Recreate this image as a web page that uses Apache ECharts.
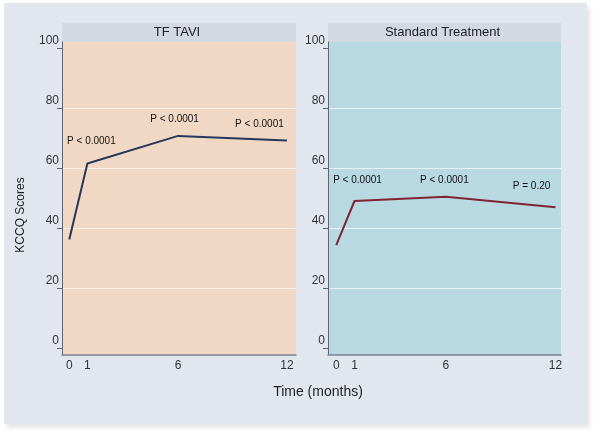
<!DOCTYPE html>
<html>
<head>
<meta charset="utf-8">
<script src="https://cdn.jsdelivr.net/npm/echarts@6/dist/echarts.min.js"></script>
<style>html,body{margin:0;padding:0;background:#fff}#c{width:600px;height:436px}</style>
</head>
<body>
<div id="c"></div>
<script>
// ---- data ----
var months = [0, 1, 6, 12];
var tafiScores = [36.2, 61.5, 70.7, 69.2];
var standardScores = [34.3, 49.0, 50.4, 46.9];
var tafiPLabels = ['', 'P < 0.0001', 'P < 0.0001', 'P < 0.0001'];
var standardPLabels = ['', 'P < 0.0001', 'P < 0.0001', 'P = 0.20'];
var xTickValues = [0, 1, 6, 12];
var yTickValues = [0, 20, 40, 60, 80, 100];
var panelTitles = ['TF TAVI', 'Standard Treatment'];
var xAxisTitle = 'Time (months)';
var yAxisTitle = 'KCCQ Scores';

// ---- styles ----
var font = 'Liberation Sans, Arial, sans-serif';
var tafiOffsets = [[0, 0], [4, -22], [-3.5, -17], [-27.5, -16.5]];
var stdOffsets = [[0, 0], [3, -21], [-1.5, -17], [-24, -21]];

function buildData(xs, ys, labels, offsets) {
  return xs.map(function (x, i) {
    return {
      value: [x, ys[i]],
      label: { show: labels[i] !== '', formatter: labels[i], offset: offsets[i] }
    };
  });
}

var grids = [
  { left: 62, top: 42, width: 234, height: 313, show: true, backgroundColor: '#f1d8c5', borderWidth: 0 },
  { left: 328, top: 42, width: 233, height: 313, show: true, backgroundColor: '#b8d9e2', borderWidth: 0 }
];

function xAxisFor(idx, mn, mx) {
  return {
    type: 'value', gridIndex: idx, min: mn, max: mx,
    axisLine: { show: true, onZero: false, lineStyle: { color: '#7d838c', width: 1.5 } },
    axisTick: { show: false, customValues: xTickValues },
    axisLabel: { customValues: xTickValues, color: '#333', fontFamily: font, fontSize: 12, margin: 5 },
    splitLine: { show: false }
  };
}
function yAxisFor(idx) {
  return {
    type: 'value', gridIndex: idx, min: -2.33, max: 102,
    axisLine: { show: true, onZero: false, lineStyle: { color: '#5f656e', width: 1 } },
    axisTick: { show: true, length: 5, customValues: yTickValues, lineStyle: { color: '#5f656e' } },
    axisLabel: { customValues: yTickValues, color: '#333', fontFamily: font, fontSize: 12, margin: 3, verticalAlign: 'bottom', lineHeight: 14 },
    splitLine: { show: true, showMinLine: false, showMaxLine: false, lineStyle: { color: 'rgba(255,255,255,0.65)', width: 1 } }
  };
}

var labelStyle = { position: 'inside', color: '#111', fontFamily: font, fontSize: 10 };

var option = {
  animation: false,
  backgroundColor: '#ffffff',
  grid: grids,
  xAxis: [xAxisFor(0, -0.4, 12.5), xAxisFor(1, -0.45, 12.3)],
  yAxis: [yAxisFor(0), yAxisFor(1)],
  graphic: [
    { type: 'rect', z: -10, shape: { x: 4, y: 3, width: 583, height: 421 },
      style: { fill: '#e2e7ef', shadowBlur: 4, shadowOffsetX: 3, shadowOffsetY: 4, shadowColor: 'rgba(0,0,0,0.10)' } },
    { type: 'rect', shape: { x: 62, y: 23, width: 234, height: 19 }, style: { fill: '#d3d8e3' } },
    { type: 'rect', shape: { x: 328, y: 23, width: 233, height: 19 }, style: { fill: '#d3d8e3' } },
    { type: 'text', x: 177, y: 32.5, style: { text: panelTitles[0], fill: '#222', font: '13px ' + font, align: 'center', verticalAlign: 'middle' } },
    { type: 'text', x: 442.5, y: 32.5, style: { text: panelTitles[1], fill: '#222', font: '13px ' + font, align: 'center', verticalAlign: 'middle' } },
    { type: 'text', x: 318, y: 392, style: { text: xAxisTitle, fill: '#222', font: '14px ' + font, align: 'center', verticalAlign: 'middle' } },
    { type: 'text', x: 20.5, y: 215, rotation: Math.PI / 2, style: { text: yAxisTitle, fill: '#222', font: '12px ' + font, align: 'center', verticalAlign: 'middle' } }
  ],
  series: [
    { type: 'line', xAxisIndex: 0, yAxisIndex: 0, symbol: 'circle', symbolSize: 0.1,
      itemStyle: { color: '#27375a' }, lineStyle: { color: '#27375a', width: 2 },
      label: labelStyle,
      data: buildData(months, tafiScores, tafiPLabels, tafiOffsets) },
    { type: 'line', xAxisIndex: 1, yAxisIndex: 1, symbol: 'circle', symbolSize: 0.1,
      itemStyle: { color: '#7e2535' }, lineStyle: { color: '#7e2535', width: 2 },
      label: labelStyle,
      data: buildData(months, standardScores, standardPLabels, stdOffsets) }
  ]
};
var chart = echarts.init(document.getElementById('c'), null, { renderer: 'canvas' });
chart.setOption(option);
</script>
</body>
</html>
